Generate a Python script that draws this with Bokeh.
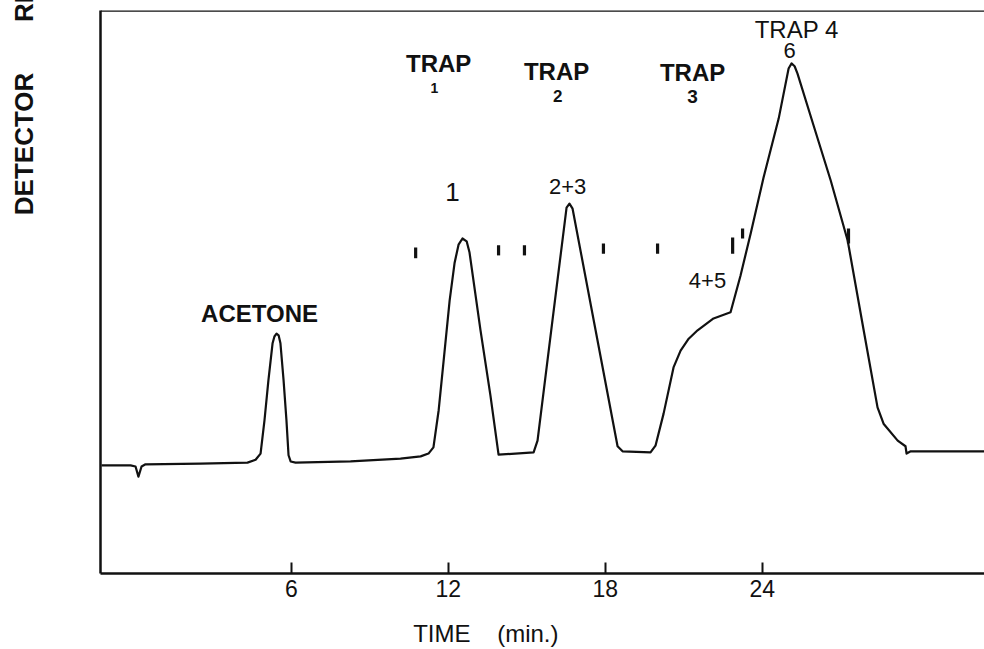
from bokeh.plotting import figure
from bokeh.models import Range1d, Label, Span, FixedTicker
from bokeh.embed import file_html
from bokeh.resources import INLINE

# ---- data (time in min, detector response in arbitrary units) ----
time_min = [-1.26, -0.15, 0.04, 0.15, 0.27, 0.42, 2.52, 4.32, 4.63, 4.82, 4.97, 5.12, 5.28, 5.35,
            5.43, 5.51, 5.58, 5.70, 5.81, 5.89, 5.97, 6.16, 8.26, 10.17, 10.94, 11.24, 11.43, 11.63,
            11.82, 12.05, 12.24, 12.39, 12.54, 12.70, 12.81, 13.23, 13.61, 13.92, 15.26, 15.41,
            15.98, 16.52, 16.63, 16.75, 17.63, 18.47, 18.66, 19.73, 19.92, 20.23, 20.61, 20.88,
            21.19, 21.53, 22.14, 22.79, 23.17, 23.56, 24.05, 24.63, 25.01, 25.12, 25.24, 25.35,
            25.95, 26.62, 27.27, 27.88, 28.41, 28.64, 29.18, 29.48, 29.52, 29.68, 32.50]
response = [19.2, 19.2, 19.0, 17.2, 19.0, 19.4, 19.5, 19.7, 20.2, 21.3, 27.2, 34.3, 40.9, 42.1,
             42.6, 42.3, 40.9, 34.3, 27.2, 21.0, 19.9, 19.7, 19.9, 20.4, 20.8, 21.3, 22.4, 29.0,
             37.8, 48.5, 55.2, 58.4, 59.5, 59.0, 57.0, 43.2, 31.6, 21.1, 21.5, 23.6,
             44.9, 65.0, 65.7, 64.8, 43.2, 22.6, 21.7, 21.5, 22.7, 28.4, 36.6, 39.6,
             41.7, 43.2, 45.3, 46.4, 52.9, 60.4, 70.3, 80.8, 89.7, 90.6, 90.1, 88.8,
             79.8, 69.8, 59.1, 43.2, 29.5, 26.6, 23.6, 22.6, 21.3, 21.7, 21.7]

# trap cut marks
cut_times = [10.75, 13.92, 14.91, 17.93, 20.00, 22.87, 23.25, 27.30]
cut_low = [56.0, 56.5, 56.5, 56.8, 56.8, 56.8, 59.5, 58.6]
cut_high = [57.9, 58.3, 58.3, 58.6, 58.6, 59.7, 61.3, 61.3]

tick_values = [6, 12, 18, 24]

FONT = "Liberation Sans"
INK = "#111111"
NB = "\u00a0"

p = figure(width=984, height=649, output_backend="svg", toolbar_location=None,
           x_range=Range1d(-1.3, 32.5), y_range=Range1d(0, 100),
           min_border_left=100, min_border_right=0, min_border_top=10, min_border_bottom=76)
p.outline_line_color = None
p.xgrid.grid_line_color = None
p.ygrid.grid_line_color = None
p.background_fill_color = "white"
p.border_fill_color = "white"

xa = p.xaxis[0]
xa.ticker = FixedTicker(ticks=tick_values)
xa.minor_tick_line_color = None
xa.major_tick_in = 11
xa.major_tick_out = 0
xa.major_tick_line_width = 2
xa.major_tick_line_color = INK
xa.axis_line_width = 2.5
xa.axis_line_color = INK
xa.major_label_text_font = FONT
xa.major_label_text_font_size = "23px"
xa.major_label_text_color = INK
xa.major_label_standoff = 6
xa.axis_label = "TIME" + NB * 4 + "(min.)" + NB * 17
xa.axis_label_text_font = FONT
xa.axis_label_text_font_style = "normal"
xa.axis_label_text_font_size = "24px"
xa.axis_label_text_color = INK
xa.axis_label_standoff = 20

ya = p.yaxis[0]
ya.ticker = FixedTicker(ticks=[])
ya.minor_tick_line_color = None
ya.major_tick_line_color = None
ya.major_tick_out = 0
ya.major_tick_in = 0
ya.major_label_standoff = 0
ya.major_label_text_font_size = "0px"
ya.axis_line_width = 2.5
ya.axis_line_color = INK
ya.axis_label = NB * 68 + "DETECTOR" + NB * 7 + "RESPONSE"
ya.axis_label_text_font = FONT
ya.axis_label_text_font_style = "bold"
ya.axis_label_text_font_size = "26px"
ya.axis_label_text_color = INK
ya.axis_label_standoff = 62

p.add_layout(Span(location=100, dimension="width", line_color=INK, line_width=2.5))

p.line(time_min, response, line_color=INK, line_width=2.2, line_join="round")
p.segment(x0=cut_times, y0=cut_low, x1=cut_times, y1=cut_high, line_color=INK, line_width=3.2)

def lab(text, x, y, size, bold=False):
    p.add_layout(Label(x=x, y=y, text=text, text_font=FONT, text_font_size=size,
                       text_font_style="bold" if bold else "normal",
                       text_color=INK, text_align="center", text_baseline="middle"))

lab("ACETONE", 4.78, 46.2, "24px", bold=True)
lab("TRAP", 11.63, 90.6, "24px", bold=True)
lab("1", 11.47, 86.3, "14px", bold=True)
lab("TRAP", 16.14, 89.2, "24px", bold=True)
lab("2", 16.18, 84.9, "17px", bold=True)
lab("TRAP", 21.34, 89.0, "24px", bold=True)
lab("3", 21.34, 84.7, "19px", bold=True)
lab("TRAP 4", 25.32, 96.6, "24px")
lab("6", 25.05, 92.9, "22px")
lab("1", 12.16, 67.7, "26px")
lab("2+3", 16.56, 68.7, "22px")
lab("4+5", 21.91, 52.0, "22px")

open("out.html", "w").write(file_html(p, INLINE))
